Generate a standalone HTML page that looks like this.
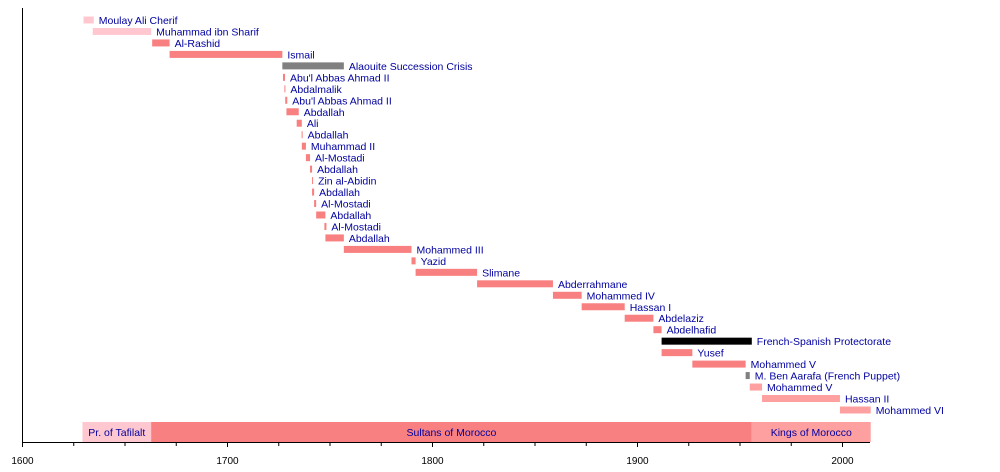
<!DOCTYPE html>
<html><head><meta charset="utf-8"><style>body{margin:0;background:#fff}svg{display:block}text{font-family:"Liberation Sans",sans-serif;font-size:10.5px;fill:#0000a0}</style></head><body>
<svg width="1000" height="472" xmlns="http://www.w3.org/2000/svg">
<line x1="22.5" y1="8" x2="22.5" y2="442" stroke="#000"/>
<line x1="22" y1="442.5" x2="870" y2="442.5" stroke="#000"/>
<g id="bands"></g><g id="bars"></g><g id="ticks"></g>
<script>
const X=y=>22+2.05*(y-1600);
const ns="http://www.w3.org/2000/svg";
function el(p,t,a,txt){const e=document.createElementNS(ns,t);for(const k in a)e.setAttribute(k,a[k]);if(txt)e.textContent=txt;p.appendChild(e);return e;}
const bands=document.getElementById('bands');
[[1629.5,1663,'#ffc8d0','Pr. of Tafilalt'],[1663,1956,'#f88080','Sultans of Morocco'],[1956,2014,'#ffa0a0','Kings of Morocco']].forEach(b=>{
el(bands,'rect',{x:X(b[0]),y:422,width:X(b[1])-X(b[0]),height:20,fill:b[2]});
el(bands,'text',{x:(X(b[0])+X(b[1]))/2,y:436,'text-anchor':'middle'},b[3]);});
const P='#ffc8d0',S='#f88080',K='#ffa0a0',G='#808080',B='#000';
const rows=[[1630,1635,P,'Moulay Ali Cherif'],[1634.5,1663,P,'Muhammad ibn Sharif'],[1663.5,1672,S,'Al-Rashid'],[1672,1727,S,'Ismail'],[1727,1757,G,'Alaouite Succession Crisis'],
[1727.3,1728.3,S,"Abu'l Abbas Ahmad II"],[1728,1728.4,S,'Abdalmalik'],[1728.4,1729.4,S,"Abu'l Abbas Ahmad II"],[1729,1735,S,'Abdallah'],[1734,1736.5,S,'Ali'],[1736.4,1736.8,S,'Abdallah'],
[1736.5,1738.5,S,'Muhammad II'],[1738.5,1740.5,S,'Al-Mostadi'],[1740.5,1741.5,S,'Abdallah'],[1741.5,1741.8,S,'Zin al-Abidin'],[1741.5,1742.5,S,'Abdallah'],[1742.5,1743.5,S,'Al-Mostadi'],
[1743.5,1748,S,'Abdallah'],[1747.5,1748.5,S,'Al-Mostadi'],[1748,1757,S,'Abdallah'],[1757,1790,S,'Mohammed III'],[1790,1792,S,'Yazid'],[1792,1822,S,'Slimane'],[1822,1859,S,'Abderrahmane'],
[1859,1873,S,'Mohammed IV'],[1873,1894,S,'Hassan I'],[1894,1908,S,'Abdelaziz'],[1908,1912,S,'Abdelhafid'],[1912,1956,B,'French-Spanish Protectorate'],[1912,1927,S,'Yusef'],
[1927,1953,S,'Mohammed V'],[1953,1955,G,'M. Ben Aarafa (French Puppet)'],[1955,1961,K,'Mohammed V'],[1961,1999,K,'Hassan II'],[1999,2014,K,'Mohammed VI']];
const bars=document.getElementById('bars');
rows.forEach((r,i)=>{const yc=20+i*11.47;const x1=X(r[0]),x2=Math.max(X(r[1]),x1+1);
el(bars,'rect',{x:x1,y:yc-3.5,width:x2-x1,height:7,fill:r[2]});
el(bars,'text',{x:x2+5,y:yc+4},r[3]);});
const tk=document.getElementById('ticks');
for(let y=1600;y<=2000;y+=25){const x=X(y)+0.5;const major=y%100==0;
el(tk,'line',{x1:x,y1:442,x2:x,y2:major?447:446,stroke:'#000'});
if(major)el(tk,'text',{x:x,y:464,'text-anchor':'middle',style:'fill:#000;font-size:10px'},y);}
</script>
</svg>
</body></html>
